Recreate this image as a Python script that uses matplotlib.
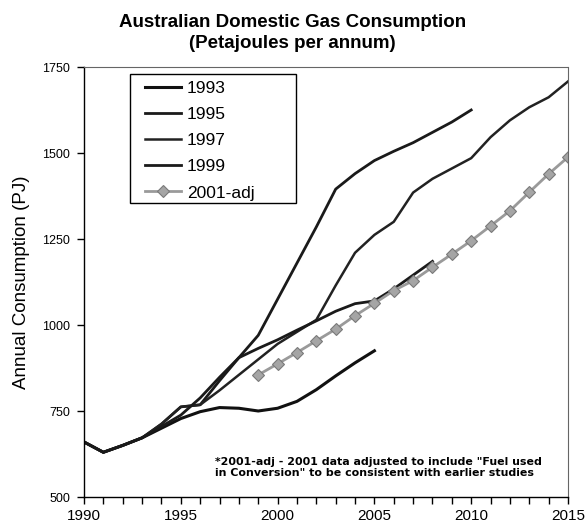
import matplotlib
matplotlib.use("Agg")
import matplotlib.pyplot as plt
from matplotlib.ticker import MultipleLocator
from matplotlib.patches import Rectangle

# ---- data ----
years_1993 = list(range(1990, 2006))
s1993 = [660, 630, 650, 672, 700, 728, 748, 760, 758, 750, 758, 778, 812, 852, 890, 925]

years_1995 = list(range(1990, 2011))
s1995 = [660, 630, 650, 672, 712, 762, 768, 838, 905, 970, 1075, 1180, 1285, 1395,
         1440, 1478, 1505, 1530, 1560, 1590, 1625]

years_1997 = list(range(1990, 2016))
s1997 = [660, 630, 650, 672, 712, 762, 768, 810, 855, 900, 945, 980, 1015, 1115,
         1210, 1262, 1300, 1385, 1425, 1455, 1485, 1546, 1595, 1633, 1662, 1708]

years_1999 = list(range(1990, 2009))
s1999 = [660, 630, 650, 672, 705, 738, 788, 848, 905, 932, 957, 985, 1012, 1040,
         1062, 1070, 1105, 1145, 1185]

years_2001 = list(range(1999, 2016))
s2001 = [855, 887, 920, 954, 988, 1027, 1063, 1100, 1129, 1168, 1206, 1245, 1288,
         1332, 1386, 1439, 1488]

x_ticks = [1990, 1995, 2000, 2005, 2010, 2015]
y_ticks = [500, 750, 1000, 1250, 1500, 1750]

title = "Australian Domestic Gas Consumption\n(Petajoules per annum)"
ylabel = "Annual Consumption (PJ)"
note = ('*2001-adj - 2001 data adjusted to include "Fuel used\n'
        'in Conversion" to be consistent with earlier studies')

plt.rcParams['font.family'] = ['Liberation Sans', 'DejaVu Sans']

fig = plt.figure(figsize=(5.85, 5.27), dpi=100)
W, H = 585, 527
l, r, t, b = 84, 568, 67, 497
ax = fig.add_axes([l / W, 1 - b / H, (r - l) / W, (b - t) / H])

ax.plot(years_1993, s1993, color='#111111', lw=2.2, label='1993')
ax.plot(years_1995, s1995, color='#1a1a1a', lw=2.0, label='1995')
ax.plot(years_1997, s1997, color='#222222', lw=1.8, label='1997')
ax.plot(years_1999, s1999, color='#1a1a1a', lw=2.0, label='1999')
ax.plot(years_2001, s2001, color='#9a9a9a', lw=2.0, marker='D', markersize=6.5,
        markerfacecolor='#a5a5a5', markeredgecolor='#7a7a7a', markeredgewidth=0.8,
        label='2001-adj')

ax.set_xlim(1990, 2015)
ax.set_ylim(500, 1750)
ax.set_xticks(x_ticks)
ax.xaxis.set_minor_locator(MultipleLocator(1))
ax.set_yticks(y_ticks)
ax.tick_params(axis='x', which='both', direction='out', length=5, width=1,
               labelsize=11, pad=4, colors='black')
ax.tick_params(axis='y', which='major', direction='out', length=5, width=1,
               labelsize=9, pad=5)

for s in ['left', 'bottom']:
    ax.spines[s].set_color('black')
    ax.spines[s].set_linewidth(1.0)
for s in ['top', 'right']:
    ax.spines[s].set_color('#666666')
    ax.spines[s].set_linewidth(0.8)
    ax.spines[s].set_linestyle((0, (1, 1)))

ax.set_ylabel(ylabel, fontsize=13.5, labelpad=9)

fig.text(0.5, 1 - 33 / H, title, ha='center', va='center', fontsize=13.5,
         fontweight='bold', linespacing=1.25)

ax.text((215 - l) / (r - l), (b - 467.5) / (b - t), note, transform=ax.transAxes,
        ha='left', va='center', fontsize=7.9, fontweight='bold',
        family='DejaVu Sans', linespacing=1.05)

# legend (frame drawn separately to match the reference box)
box = Rectangle((130 / W, 1 - 203 / H), (296 - 130) / W, (203 - 74) / H,
                transform=fig.transFigure, facecolor='white', edgecolor='black',
                linewidth=1.0, zorder=4, clip_on=False)
ax.add_patch(box)
leg = ax.legend(loc='upper left', bbox_to_anchor=(145 / W, 1 - 81 / H),
                bbox_transform=fig.transFigure, frameon=False, fontsize=12.5,
                handlelength=2.1, handletextpad=0.3, labelspacing=0.63,
                borderpad=0, borderaxespad=0)
leg.set_zorder(6)

fig.savefig('out.png', dpi=100)
